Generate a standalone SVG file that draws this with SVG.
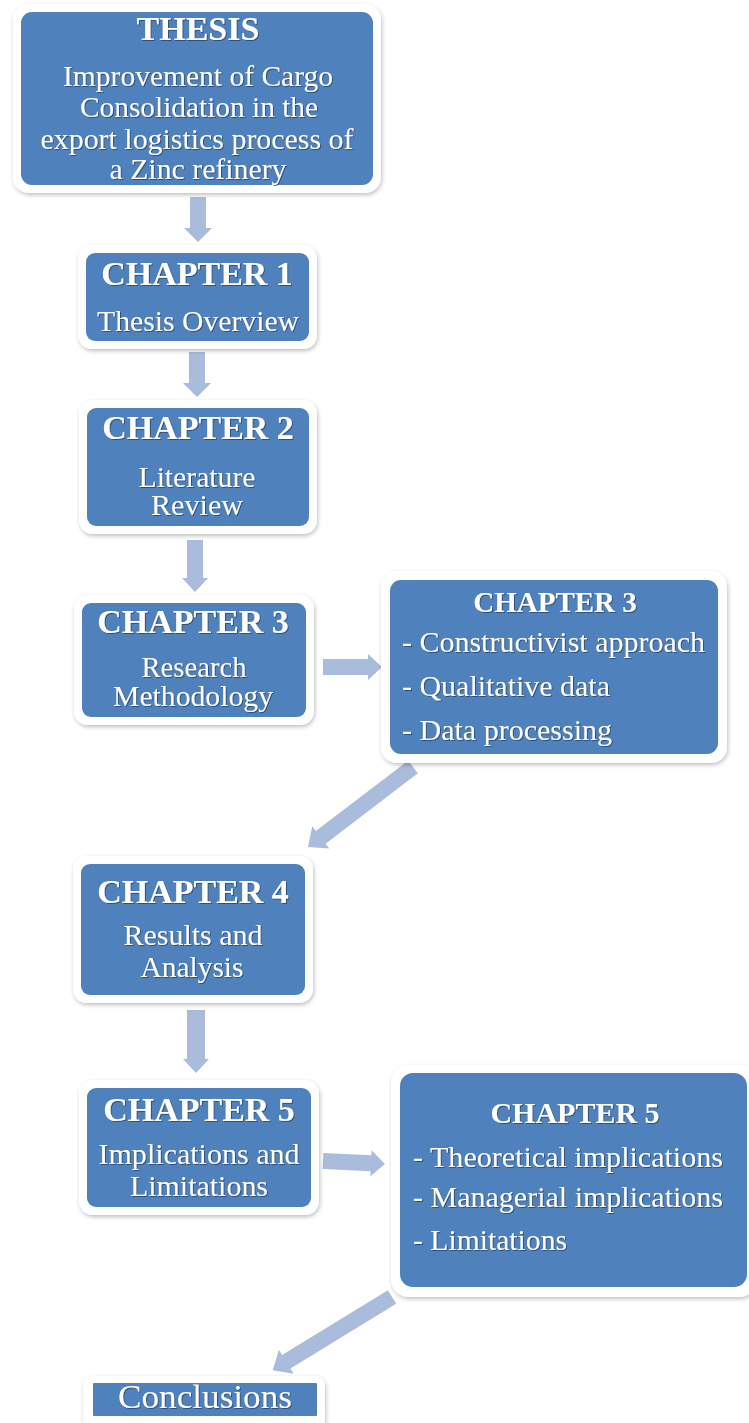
<svg xmlns="http://www.w3.org/2000/svg" width="749" height="1423" viewBox="0 0 749 1423">
<defs>
<filter id="sh" x="-10%" y="-10%" width="120%" height="130%">
<feDropShadow dx="1" dy="2" stdDeviation="2" flood-color="#000" flood-opacity="0.25"/>
</filter>
<filter id="tsh" x="-5%" y="-20%" width="110%" height="140%">
<feDropShadow dx="1" dy="1" stdDeviation="0.7" flood-color="#1a2a45" flood-opacity="0.6"/>
</filter>
<style>
.frame{fill:#ffffff;filter:url(#sh)}
.box{fill:#4F81BD}
.t{fill:#ffffff;font-family:"Liberation Serif","Times New Roman",serif;filter:url(#tsh)}
.h{font-weight:bold;text-anchor:middle}
.c{text-anchor:middle}
.arrow{fill:#A9BCDB}
</style>
</defs>
<rect width="749" height="1423" fill="#ffffff"/>

<g id="connectors">
<path class="arrow" transform="translate(198,197) rotate(90)" d="M0,-8 L31,-8 L31,-14 L45,0 L31,14 L31,8 L0,8 Z"/>
<path class="arrow" transform="translate(197,352) rotate(90)" d="M0,-8 L31,-8 L31,-14 L45,0 L31,14 L31,8 L0,8 Z"/>
<path class="arrow" transform="translate(195,540) rotate(90)" d="M0,-8 L38,-8 L38,-13 L52,0 L38,13 L38,8 L0,8 Z"/>
<path class="arrow" transform="translate(323,667) rotate(0)" d="M0,-8 L45,-8 L45,-13 L59,0 L45,13 L45,8 L0,8 Z"/>
<path class="arrow" transform="translate(413,767) rotate(142.7)" d="M0,-8 L116,-8 L116,-14 L132,0 L116,14 L116,8 L0,8 Z"/>
<path class="arrow" transform="translate(196,1010) rotate(90)" d="M0,-9 L49,-9 L49,-13 L63,0 L49,13 L49,9 L0,9 Z"/>
<path class="arrow" transform="translate(323,1161) rotate(2.8)" d="M0,-8 L48,-8 L48,-13 L62,0 L48,13 L48,8 L0,8 Z"/>
<path class="arrow" transform="translate(392,1297) rotate(148.5)" d="M0,-8 L124,-8 L124,-14 L140,0 L124,14 L124,8 L0,8 Z"/>
</g>

<g id="thesis">
<rect class="frame" x="13" y="4" width="368" height="189" rx="16"/>
<rect class="box" x="21" y="12" width="352" height="173" rx="11"/>
<text class="t h" x="198" y="40" font-size="34">THESIS</text>
<text class="t c" x="198" y="86" font-size="28.5" textLength="270" lengthAdjust="spacingAndGlyphs">Improvement of Cargo</text>
<text class="t c" x="199" y="117" font-size="28.5" textLength="238" lengthAdjust="spacingAndGlyphs">Consolidation in the</text>
<text class="t c" x="197" y="149" font-size="28.5" textLength="313" lengthAdjust="spacingAndGlyphs">export logistics process of</text>
<text class="t c" x="198" y="179" font-size="28.5" textLength="177" lengthAdjust="spacingAndGlyphs">a Zinc refinery</text>
</g>

<g id="ch1">
<rect class="frame" x="78" y="245" width="239" height="104" rx="14"/>
<rect class="box" x="86" y="253" width="223" height="88" rx="9"/>
<text class="t h" x="197" y="285" font-size="34">CHAPTER 1</text>
<text class="t c" x="198" y="331" font-size="28.5" textLength="202" lengthAdjust="spacingAndGlyphs">Thesis Overview</text>
</g>

<g id="ch2">
<rect class="frame" x="79" y="400" width="238" height="134" rx="14"/>
<rect class="box" x="87" y="408" width="222" height="118" rx="9"/>
<text class="t h" x="198" y="439" font-size="34">CHAPTER 2</text>
<text class="t c" x="197" y="487" font-size="28.5" textLength="117" lengthAdjust="spacingAndGlyphs">Literature</text>
<text class="t c" x="197" y="515" font-size="28.5" textLength="92" lengthAdjust="spacingAndGlyphs">Review</text>
</g>

<g id="ch3">
<rect class="frame" x="74" y="595" width="240" height="130" rx="14"/>
<rect class="box" x="82" y="603" width="224" height="114" rx="9"/>
<text class="t h" x="193" y="633" font-size="34">CHAPTER 3</text>
<text class="t c" x="194" y="677" font-size="28.5" textLength="105" lengthAdjust="spacingAndGlyphs">Research</text>
<text class="t c" x="193" y="706" font-size="28.5" textLength="160" lengthAdjust="spacingAndGlyphs">Methodology</text>
</g>

<g id="ch3-details">
<rect class="frame" x="381" y="571" width="346" height="192" rx="16"/>
<rect class="box" x="390" y="580" width="328" height="174" rx="11"/>
<text class="t h" x="555" y="612" font-size="29">CHAPTER 3</text>
<text class="t" x="402" y="652" font-size="29" textLength="303" lengthAdjust="spacingAndGlyphs">- Constructivist approach</text>
<text class="t" x="402" y="696" font-size="29" textLength="208" lengthAdjust="spacingAndGlyphs">- Qualitative data</text>
<text class="t" x="402" y="740" font-size="29" textLength="210" lengthAdjust="spacingAndGlyphs">- Data processing</text>
</g>

<g id="ch4">
<rect class="frame" x="73" y="856" width="240" height="147" rx="14"/>
<rect class="box" x="81" y="864" width="224" height="131" rx="9"/>
<text class="t h" x="193" y="903" font-size="34">CHAPTER 4</text>
<text class="t c" x="193" y="945" font-size="28.5" textLength="139" lengthAdjust="spacingAndGlyphs">Results and</text>
<text class="t c" x="192" y="977" font-size="28.5" textLength="103" lengthAdjust="spacingAndGlyphs">Analysis</text>
</g>

<g id="ch5">
<rect class="frame" x="79" y="1080" width="240" height="135" rx="14"/>
<rect class="box" x="87" y="1088" width="224" height="119" rx="9"/>
<text class="t h" x="199" y="1121" font-size="34">CHAPTER 5</text>
<text class="t c" x="199" y="1164" font-size="28.5" textLength="201" lengthAdjust="spacingAndGlyphs">Implications and</text>
<text class="t c" x="199" y="1196" font-size="28.5" textLength="138" lengthAdjust="spacingAndGlyphs">Limitations</text>
</g>

<g id="ch5-details">
<rect class="frame" x="391" y="1065" width="366" height="232" rx="18"/>
<rect class="box" x="400" y="1073" width="347" height="214" rx="13"/>
<text class="t h" x="575" y="1123" font-size="30">CHAPTER 5</text>
<text class="t" x="413" y="1167" font-size="29" textLength="310" lengthAdjust="spacingAndGlyphs">- Theoretical implications</text>
<text class="t" x="413" y="1207" font-size="29" textLength="310" lengthAdjust="spacingAndGlyphs">- Managerial implications</text>
<text class="t" x="413" y="1250" font-size="29" textLength="154" lengthAdjust="spacingAndGlyphs">- Limitations</text>
</g>

<g id="conclusions">
<rect class="frame" x="83" y="1376" width="242" height="56" rx="10"/>
<rect class="box" x="93" y="1383" width="224" height="33" rx="1"/>
<text class="t c" x="205" y="1408" font-size="33" textLength="174" lengthAdjust="spacingAndGlyphs">Conclusions</text>
</g>
</svg>
